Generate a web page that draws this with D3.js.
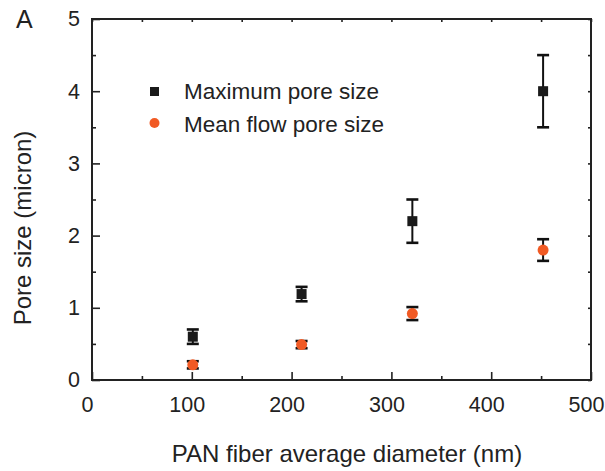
<!DOCTYPE html>
<html>
<head>
<meta charset="utf-8">
<script src="https://cdn.jsdelivr.net/npm/d3@7"></script>
<style>
  body { margin: 0; background: #fff; }
  text { font-family: "Liberation Sans", Arial, sans-serif; fill: #222; }
</style>
</head>
<body>
<svg id="chart" width="605" height="471"></svg>
<script>
var diameters = [101, 210, 321, 452];
var maxPore = [0.6, 1.19, 2.2, 4.0];
var maxErr = [0.1, 0.1, 0.3, 0.5];
var meanPore = [0.21, 0.49, 0.92, 1.8];
var meanErr = [0.05, 0.05, 0.09, 0.15];
var xTicks = [0, 100, 200, 300, 400, 500];
var yTicks = [0, 1, 2, 3, 4, 5];

var width = 605, height = 471;
var margin = { left: 92, right: 14, top: 19, bottom: 91 };
var orange = '#f15a24';

var svg = d3.select('#chart');

var x = d3.scaleLinear().domain([0, 500]).range([margin.left, width - margin.right]);
var y = d3.scaleLinear().domain([0, 5]).range([height - margin.bottom, margin.top]);

// minor ticks
var xMinor = d3.range(50, 500, 100);
var yMinor = d3.range(0.5, 5, 1);

var axes = svg.append('g');

// bottom axis
axes.append('g')
    .attr('transform', 'translate(0,' + y(0) + ')')
    .call(d3.axisBottom(x).tickValues(xTicks).tickSize(-8).tickPadding(17).tickFormat(d3.format('d')))
    .call(g => g.select('.domain').remove())
    .call(g => g.selectAll('.tick text').attr('x', -5));
axes.append('g')
    .attr('transform', 'translate(0,' + y(0) + ')')
    .call(d3.axisBottom(x).tickValues(xMinor).tickSize(-4).tickFormat(''))
    .call(g => g.select('.domain').remove());

// left axis
axes.append('g')
    .attr('transform', 'translate(' + x(0) + ',0)')
    .call(d3.axisLeft(y).tickValues(yTicks).tickSize(-8).tickPadding(12).tickFormat(d3.format('d')))
    .call(g => g.select('.domain').remove());
axes.append('g')
    .attr('transform', 'translate(' + x(0) + ',0)')
    .call(d3.axisLeft(y).tickValues(yMinor).tickSize(-4).tickFormat(''))
    .call(g => g.select('.domain').remove());

// top and right: small ticks only
axes.append('g')
    .attr('transform', 'translate(0,' + y(5) + ')')
    .call(d3.axisTop(x).tickValues(xTicks.concat(xMinor)).tickSize(-3).tickFormat(''))
    .call(g => g.select('.domain').remove());
axes.append('g')
    .attr('transform', 'translate(' + x(500) + ',0)')
    .call(d3.axisRight(y).tickValues(yTicks.concat(yMinor)).tickSize(-3).tickFormat(''))
    .call(g => g.select('.domain').remove());

axes.selectAll('.tick line').attr('stroke', '#222').attr('stroke-width', 1.6);
axes.selectAll('.tick text')
    .style('font-family', '"Liberation Sans", Arial, sans-serif')
    .style('font-size', '21.5px')
    .attr('fill', '#222');

// frame
svg.append('rect')
    .attr('x', x(0)).attr('y', y(5))
    .attr('width', x(500) - x(0)).attr('height', y(0) - y(5))
    .attr('fill', 'none').attr('stroke', '#222').attr('stroke-width', 2);

// error bars
function errorBars(vals, errs) {
    var g = svg.append('g').attr('stroke', '#111').attr('stroke-width', 2);
    vals.forEach(function(v, i) {
        var cx = x(diameters[i]);
        g.append('line').attr('x1', cx).attr('x2', cx).attr('y1', y(v - errs[i])).attr('y2', y(v + errs[i]));
        [v - errs[i], v + errs[i]].forEach(function(e) {
            g.append('line').attr('x1', cx - 6).attr('x2', cx + 6).attr('y1', y(e)).attr('y2', y(e)).attr('stroke-width', 2.6);
        });
    });
}
errorBars(maxPore, maxErr);
errorBars(meanPore, meanErr);

svg.append('g').selectAll('rect')
    .data(maxPore)
    .join('rect')
    .attr('x', (d, i) => x(diameters[i]) - 5)
    .attr('y', d => y(d) - 5)
    .attr('width', 10).attr('height', 10)
    .attr('fill', '#1a1a1a');

svg.append('g').selectAll('circle')
    .data(meanPore)
    .join('circle')
    .attr('cx', (d, i) => x(diameters[i]))
    .attr('cy', d => y(d))
    .attr('r', 5.5)
    .attr('fill', orange);

// legend
var legend = svg.append('g');
legend.append('rect').attr('x', 150).attr('y', 87).attr('width', 9).attr('height', 9).attr('fill', '#1a1a1a');
legend.append('circle').attr('cx', 154.5).attr('cy', 123).attr('r', 5).attr('fill', orange);
legend.append('text').attr('x', 184).attr('y', 99).style('font-size', '22.5px').text('Maximum pore size');
legend.append('text').attr('x', 184).attr('y', 132).style('font-size', '22.5px').text('Mean flow pore size');

// labels
svg.append('text')
    .attr('transform', 'translate(31,228) rotate(-90)')
    .attr('text-anchor', 'middle')
    .style('font-size', '24px')
    .text('Pore size (micron)');
svg.append('text')
    .attr('x', 347)
    .attr('y', 462)
    .attr('text-anchor', 'middle')
    .style('font-size', '24px')
    .text('PAN fiber average diameter (nm)');
svg.append('text')
    .attr('x', 16).attr('y', 28)
    .style('font-size', '25px')
    .text('A');
</script>
</body>
</html>
